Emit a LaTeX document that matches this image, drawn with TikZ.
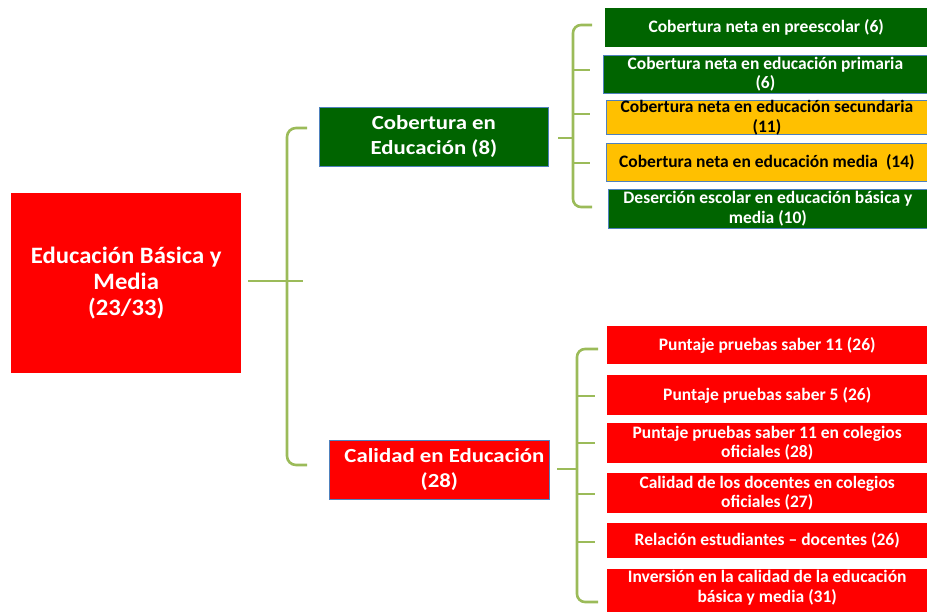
\documentclass[tikz,border=0pt]{standalone}
\usepackage{fontspec}
\setmainfont{Carlito}
\newfontfamily\midfont[FakeStretch=1.14]{Carlito}
\newfontfamily\mainfont[FakeStretch=1.05]{Carlito}
\definecolor{dgreen}{RGB}{0,100,0}
\definecolor{yel}{RGB}{255,192,0}
\definecolor{rd}{RGB}{255,0,0}
\definecolor{brk}{RGB}{155,187,89}
\definecolor{bbord}{RGB}{79,129,189}
\tikzset{
  boxbase/.style={anchor=north west, inner sep=0pt, align=center},
  mainbox/.style={boxbase, fill=rd, text=white, font=\mainfont\bfseries\fontsize{23.5}{26}\selectfont},
  midbox/.style={boxbase, draw=bbord, line width=0.8pt, text=white, font=\midfont\bfseries\fontsize{20}{25}\selectfont},
  leaf/.style={boxbase, text=white, font=\bfseries\fontsize{17.5}{19.5}\selectfont},
  leafb/.style={leaf, draw=bbord, line width=0.8pt},
  brline/.style={draw=brk, line width=2.6pt},
}
\begin{document}
\begin{tikzpicture}[x=1pt,y=-1pt]
\useasboundingbox (0,0) rectangle (927,612);
% main
\node[mainbox, minimum width=230, minimum height=180] (main) at (11,193) {Educación Básica y\\Media\\(23/33)};
% level 2
\node[midbox, fill=dgreen, minimum width=229, minimum height=59] (cob) at (319,107) {Cobertura en\\Educación (8)};
\node[midbox, fill=rd, minimum width=220, minimum height=59] (cal) at (329,440) {\hspace*{10pt}Calidad en Educación\\(28)};
% upper leaves
\node[leaf, fill=dgreen, minimum width=322, minimum height=39] (u1) at (605,8) {Cobertura neta en preescolar (6)};
\node[leafb, fill=dgreen, minimum width=324, minimum height=38] (u2) at (603,55) {Cobertura neta en educación primaria\\(6)};
\node[leafb, fill=yel, text=black, minimum width=321, minimum height=33] (u3) at (606,100) {Cobertura neta en educación secundaria\\(11)};
\node[leafb, fill=yel, text=black, minimum width=321, minimum height=38] (u4) at (606,143) {Cobertura neta en educación media\ \ (14)};
\node[leafb, fill=dgreen, minimum width=319, minimum height=39] (u5) at (608,189) {Deserción escolar en educación básica y\\media (10)};
% lower leaves
\node[leaf, fill=rd, minimum width=320, minimum height=38] (l1) at (607,326) {Puntaje pruebas saber 11 (26)};
\node[leaf, fill=rd, minimum width=320, minimum height=40] (l2) at (607,375) {Puntaje pruebas saber 5 (26)};
\node[leaf, fill=rd, minimum width=320, minimum height=40] (l3) at (607,423) {Puntaje pruebas saber 11 en colegios\\oficiales (28)};
\node[leaf, fill=rd, minimum width=320, minimum height=40] (l4) at (607,473) {Calidad de los docentes en colegios\\oficiales (27)};
\node[leaf, fill=rd, minimum width=320, minimum height=35] (l5) at (607,523) {Relación estudiantes -- docentes (26)};
\node[leaf, fill=rd, minimum width=320, minimum height=48] (l6) at (607,569) {Inversión en la calidad de la educación\\básica y media (31)\\[-6pt]};
% main bracket
\coordinate (m0) at (248,281);
\coordinate (m1) at (303,281);
\coordinate (mt) at (307,128);
\coordinate (mb) at (307,465);
\draw[brline] (m0) -- (m1);
\draw[brline, rounded corners=9pt] (mt) -- (287,128) -- (287,465) -- (mb);
% upper bracket
\coordinate (ua) at (558,138);
\coordinate (ub) at (573,138);
\draw[brline] (ua) -- (ub);
\draw[brline, rounded corners=8pt] (592,25) -- (573,25) -- (573,207) -- (592,207);
\foreach \yy in {70,114,163} \draw[brline] (573,\yy) -- (590,\yy);
% lower bracket
\coordinate (la) at (557,469);
\coordinate (lb) at (577,469);
\draw[brline] (la) -- (lb);
\draw[brline, rounded corners=8pt] (598,349) -- (577,349) -- (577,602) -- (598,602);
\foreach \yy in {396,443,494,542} \draw[brline] (577,\yy) -- (595,\yy);
\end{tikzpicture}
\end{document}
